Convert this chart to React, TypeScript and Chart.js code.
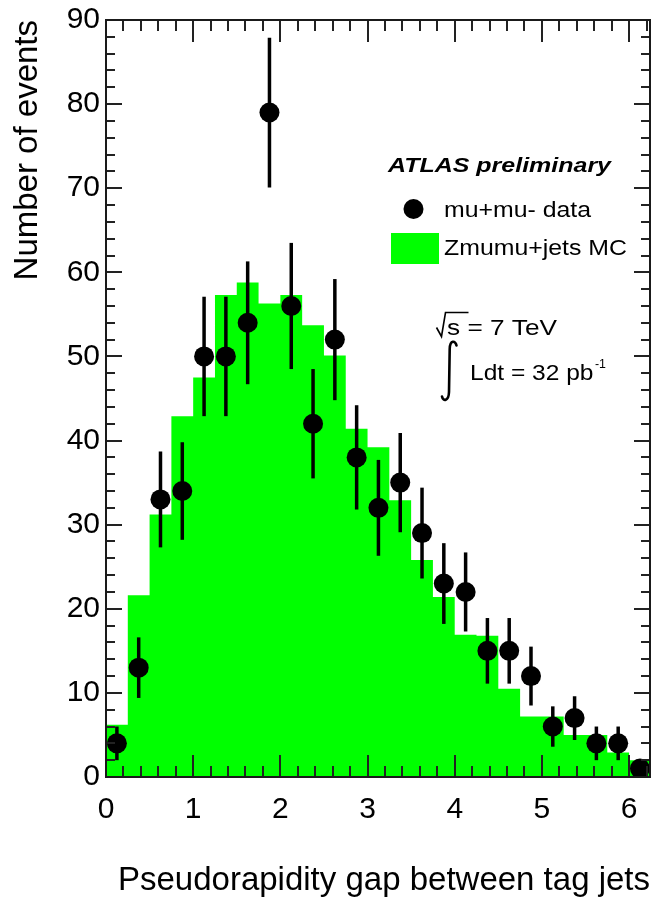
import React, { useEffect, useRef } from "react";
import { Chart, registerables } from "chart.js";

Chart.register(...registerables);

// ---------- data ----------
const binEdges = [
  0, 0.25, 0.5, 0.75, 1.0, 1.25, 1.5, 1.75, 2.0, 2.25, 2.5, 2.75, 3.0, 3.25,
  3.5, 3.75, 4.0, 4.25, 4.5, 4.75, 5.0, 5.25, 5.5, 5.75, 6.0, 6.25,
];
const mcValues = [
  6.2, 21.6, 31.2, 42.9, 47.5, 57.3, 58.8, 56.3, 57.3, 53.7, 50.1, 41.4, 39.2,
  32.9, 25.8, 21.4, 16.9, 16.8, 10.5, 7.2, 7.2, 5.0, 5.0, 2.9, 2.0,
];
const dataValues = [
  4, 13, 33, 34, 50, 50, 54, 79, 56, 42, 52, 38, 32, 35, 29, 23, 22, 15, 15, 12,
  6, 7, 4, 4, 1,
];
const dataErrors = [
  2.0, 3.6, 5.7, 5.8, 7.1, 7.1, 7.3, 8.9, 7.5, 6.5, 7.2, 6.2, 5.7, 5.9, 5.4,
  4.8, 4.7, 3.9, 3.9, 3.5, 2.4, 2.6, 2.0, 2.0, 1.0,
];
const xMajorTicks = [0, 1, 2, 3, 4, 5, 6];
const yMajorTicks = [0, 10, 20, 30, 40, 50, 60, 70, 80, 90];
const X_MINOR_STEP = 0.2;
const Y_MINOR_STEP = 2;
const X_MAX = 6.24;
const Y_MAX = 90;

const FONT = "'Liberation Sans', Arial, Helvetica, sans-serif";
const GREEN = "#00ff00";

function fitText(
  ctx: CanvasRenderingContext2D,
  text: string,
  x: number,
  y: number,
  width: number,
  font: string
) {
  ctx.font = font;
  const w = ctx.measureText(text).width;
  ctx.save();
  ctx.translate(x, y);
  ctx.scale(width / w, 1);
  ctx.fillText(text, 0, 0);
  ctx.restore();
}

const decorPlugin = {
  id: "atlasDecor",
  afterDatasetsDraw(chart: any) {
    const { ctx, chartArea } = chart;
    const { left, right, top, bottom } = chartArea;
    const xs = chart.scales.x;
    const ys = chart.scales.y;
    ctx.save();
    // error bars
    ctx.strokeStyle = "#000";
    ctx.lineWidth = 3.5;
    ctx.lineCap = "butt";
    dataValues.forEach((v, i) => {
      const c = (binEdges[i] + binEdges[i + 1]) / 2;
      const px = xs.getPixelForValue(c);
      const e = dataErrors[i];
      ctx.beginPath();
      ctx.moveTo(px, ys.getPixelForValue(Math.min(Y_MAX, v + e)));
      ctx.lineTo(px, ys.getPixelForValue(Math.max(0, v - e)));
      ctx.stroke();
    });

    // tick marks (inward, all four sides)
    ctx.strokeStyle = "#222";
    ctx.lineWidth = 2;
    const xMajorLen = 22;
    const xMinorLen = 11;
    const yMajorLen = 16;
    const yMinorLen = 9;
    for (let k = 0; k * X_MINOR_STEP <= X_MAX + 1e-9; k++) {
      const v = k * X_MINOR_STEP;
      const isMajor = Math.abs(v - Math.round(v)) < 1e-6;
      const len = isMajor ? xMajorLen : xMinorLen;
      const px = Math.round(xs.getPixelForValue(v));
      ctx.beginPath();
      ctx.moveTo(px, bottom);
      ctx.lineTo(px, bottom - len);
      ctx.moveTo(px, top);
      ctx.lineTo(px, top + len);
      ctx.stroke();
    }
    for (let k = 0; k * Y_MINOR_STEP <= Y_MAX + 1e-9; k++) {
      const v = k * Y_MINOR_STEP;
      const isMajor = v % 10 === 0;
      const len = isMajor ? yMajorLen : yMinorLen;
      const py = Math.round(ys.getPixelForValue(v));
      ctx.beginPath();
      ctx.moveTo(left, py);
      ctx.lineTo(left + len, py);
      ctx.moveTo(right, py);
      ctx.lineTo(right - len, py);
      ctx.stroke();
    }
    // frame
    ctx.strokeStyle = "#1a1a1a";
    ctx.lineWidth = 2;
    ctx.strokeRect(left, top, right - left, bottom - top);
    ctx.restore();
  },
  afterDraw(chart: any) {
    const { ctx } = chart;
    ctx.save();
    ctx.fillStyle = "#000";
    ctx.textBaseline = "alphabetic";
    ctx.textAlign = "left";

    // ATLAS preliminary
    fitText(ctx, "ATLAS preliminary", 388, 172, 223, `italic bold 21px ${FONT}`);

    // legend: data marker
    ctx.beginPath();
    ctx.arc(413.5, 209, 10, 0, Math.PI * 2);
    ctx.fill();
    fitText(ctx, "mu+mu- data", 444, 217, 147, `22px ${FONT}`);

    // legend: MC box
    ctx.fillStyle = GREEN;
    ctx.fillRect(391, 233, 48, 31);
    ctx.fillStyle = "#000";
    fitText(ctx, "Zmumu+jets MC", 444, 255, 183, `22px ${FONT}`);

    // sqrt(s) = 7 TeV
    ctx.strokeStyle = "#000";
    ctx.lineWidth = 1.6;
    ctx.lineJoin = "miter";
    ctx.beginPath();
    ctx.moveTo(436.5, 327.5);
    ctx.lineTo(441.5, 336.5);
    ctx.lineTo(445.5, 312.5);
    ctx.lineTo(468.5, 312.5);
    ctx.stroke();
    fitText(ctx, "s = 7 TeV", 447, 335, 110, `22px ${FONT}`);

    // integral L dt = 32 pb^-1
    ctx.lineWidth = 2.6;
    ctx.lineCap = "round";
    ctx.beginPath();
    ctx.moveTo(456.5, 345.5);
    ctx.bezierCurveTo(455.5, 340.5, 450, 339.5, 449.7, 349);
    ctx.lineTo(449, 392);
    ctx.bezierCurveTo(448.7, 401.5, 443, 401.5, 442, 396.5);
    ctx.stroke();
    fitText(ctx, "Ldt = 32 pb", 470, 380, 123.5, `22px ${FONT}`);
    fitText(ctx, "-1", 595, 368, 11, `13px ${FONT}`);

    ctx.restore();
  },
};

export default function App() {
  const canvasRef = useRef<HTMLCanvasElement | null>(null);

  useEffect(() => {
    document.body.style.margin = "0";
    const canvas = canvasRef.current;
    if (!canvas) return;

    const mcPoints = mcValues
      .map((v, i) => ({ x: binEdges[i], y: v }))
      .concat([
        { x: binEdges[binEdges.length - 1], y: mcValues[mcValues.length - 1] },
      ]);
    const dataPoints = dataValues.map((v, i) => ({
      x: (binEdges[i] + binEdges[i + 1]) / 2,
      y: v,
    }));

    const chart = new Chart(canvas, {
      type: "line",
      data: {
        datasets: [
          {
            label: "mu+mu- data",
            data: dataPoints,
            showLine: false,
            pointRadius: 10,
            pointHoverRadius: 10,
            pointBackgroundColor: "#000",
            pointBorderColor: "#000",
            pointBorderWidth: 0,
            order: 0,
          } as any,
          {
            label: "Zmumu+jets MC",
            data: mcPoints,
            stepped: "before",
            fill: "origin",
            backgroundColor: GREEN,
            borderColor: "rgba(0,0,0,0)",
            borderWidth: 0,
            pointRadius: 0,
            pointHoverRadius: 0,
            order: 1,
          } as any,
        ],
      },
      options: {
        animation: false,
        responsive: false,
        devicePixelRatio: 1,
        layout: {
          autoPadding: false,
          padding: { left: 0, right: 2, top: 20, bottom: 0 },
        },
        plugins: {
          legend: { display: false },
          tooltip: { enabled: false },
        },
        events: [],
        scales: {
          x: {
            type: "linear",
            min: 0,
            max: X_MAX,
            grid: { display: false, drawTicks: false, tickLength: 0 },
            border: { display: false },
            ticks: {
              color: "#000",
              font: { family: FONT, size: 30 },
              padding: 15,
              includeBounds: false,
              maxRotation: 0,
              autoSkip: false,
            },
            title: {
              display: true,
              text: "Pseudorapidity gap between tag jets",
              align: "end",
              color: "#000",
              font: { family: FONT, size: 33 },
              padding: { top: 0, bottom: 1 },
            },
            afterBuildTicks(scale: any) {
              scale.ticks = xMajorTicks.map((v) => ({ value: v }));
            },
            afterFit(scale: any) {
              scale.height = 125;
              scale.paddingLeft = 0;
              scale.paddingRight = 0;
              scale.paddingTop = 0;
              scale.paddingBottom = 0;
            },
          },
          y: {
            type: "linear",
            min: 0,
            max: Y_MAX,
            grid: { display: false, drawTicks: false, tickLength: 0 },
            border: { display: false },
            ticks: {
              color: "#000",
              font: { family: FONT, size: 30 },
              padding: 6,
              autoSkip: false,
            },
            title: {
              display: true,
              text: "Number of events",
              align: "end",
              color: "#000",
              font: { family: FONT, size: 33 },
              padding: { top: 8, bottom: 0 },
            },
            afterBuildTicks(scale: any) {
              scale.ticks = yMajorTicks.map((v) => ({ value: v }));
            },
            afterFit(scale: any) {
              scale.width = 106;
              scale.paddingLeft = 0;
              scale.paddingRight = 0;
              scale.paddingTop = 0;
              scale.paddingBottom = 0;
            },
          },
        },
      } as any,
      plugins: [decorPlugin],
    });

    return () => {
      chart.destroy();
    };
  }, []);

  return (
    <canvas
      ref={canvasRef}
      width={652}
      height={902}
      style={{ display: "block", width: 652, height: 902 }}
    />
  );
}
